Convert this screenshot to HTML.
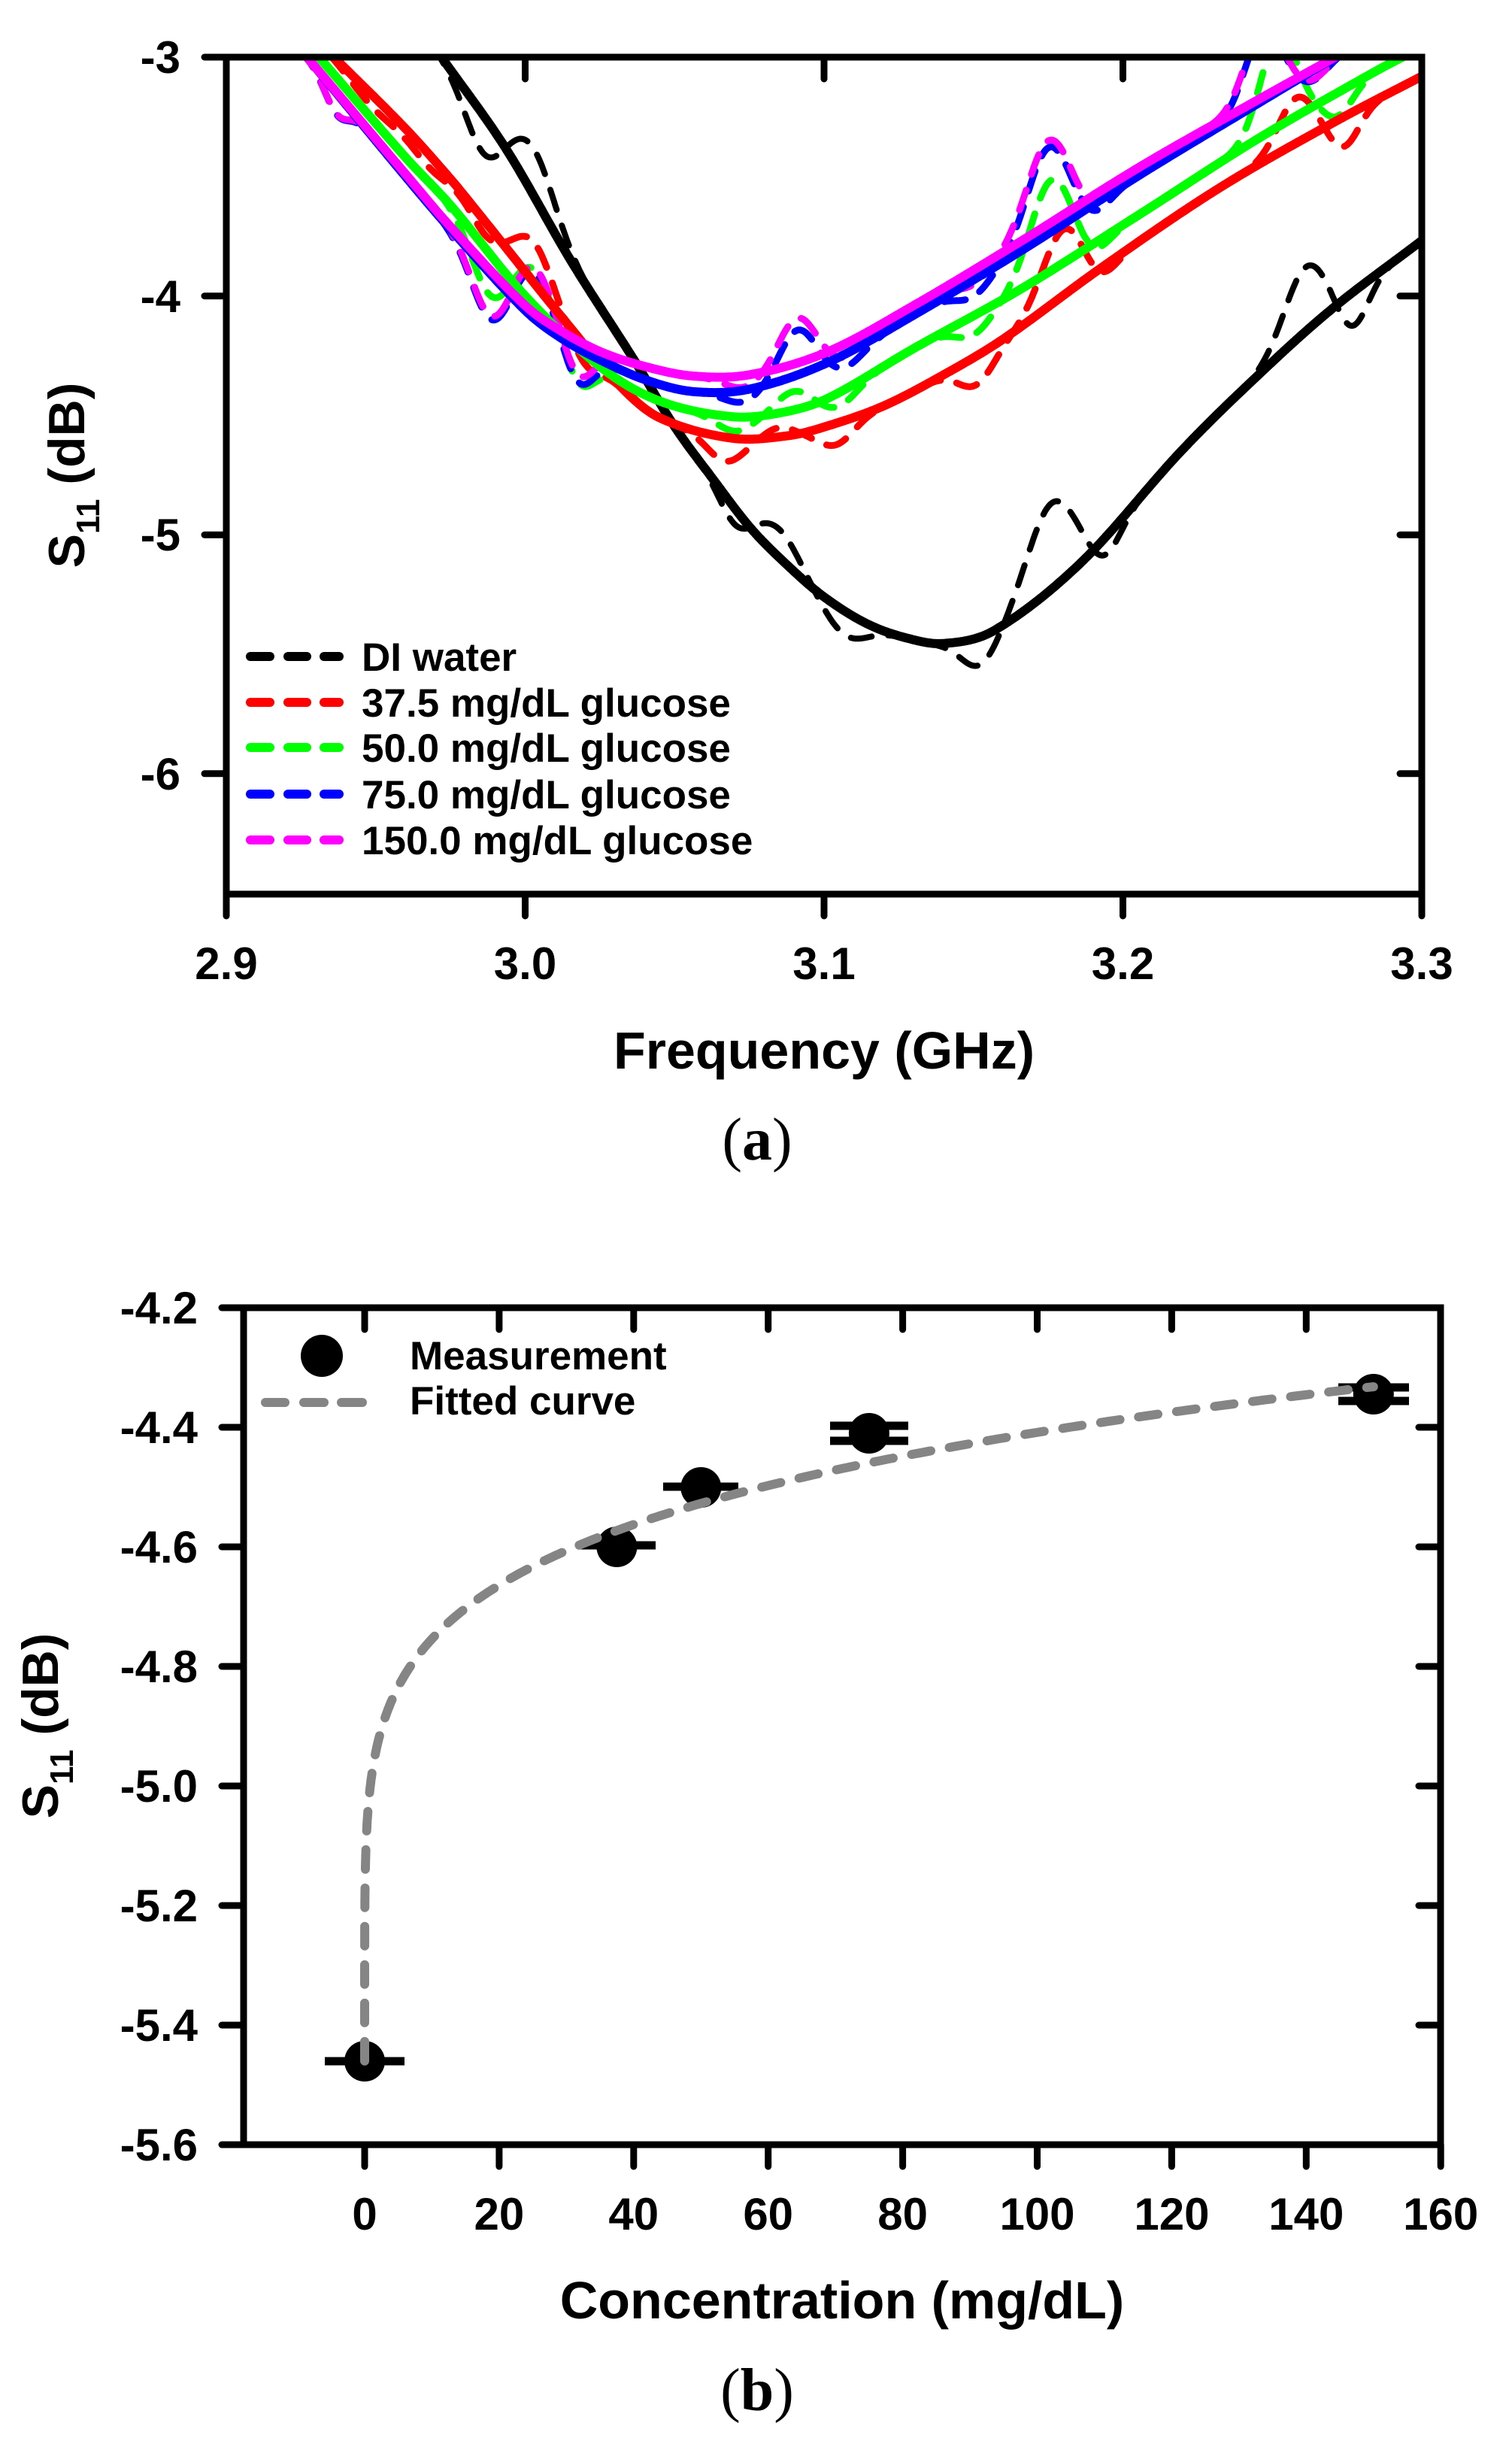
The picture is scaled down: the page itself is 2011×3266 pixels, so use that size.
<!DOCTYPE html>
<html>
<head>
<meta charset="utf-8">
<style>
html,body{margin:0;padding:0;background:#fff;}
svg{display:block;}
text{font-family:"Liberation Sans",Arial,sans-serif;font-weight:bold;fill:#000;}
.cap{font-family:"Liberation Serif","Times New Roman",serif;font-weight:normal;}
</style>
</head>
<body>
<svg id="s" xmlns="http://www.w3.org/2000/svg" width="2011" height="3266" viewBox="0 0 2011 3266">
<rect width="2011" height="3266" fill="#fff"/>
<defs>
<clipPath id="ca"><rect x="301" y="76" width="1590" height="1113"/></clipPath>
<clipPath id="cb"><rect x="324" y="1739" width="1592" height="1113"/></clipPath>
</defs>

<!-- ============ PANEL (a) ============ -->
<g id="curvesA" clip-path="url(#ca)"></g>

<g stroke="#000" stroke-width="9" fill="none" stroke-linecap="round">
<rect x="301" y="76" width="1590" height="1113" stroke-linecap="butt"/>
<!-- left ticks outward -->
<line x1="272" y1="76" x2="301" y2="76"/>
<line x1="272" y1="393.6" x2="301" y2="393.6"/>
<line x1="272" y1="711.2" x2="301" y2="711.2"/>
<line x1="272" y1="1028.8" x2="301" y2="1028.8"/>
<!-- right ticks inward -->
<line x1="1862" y1="393.6" x2="1891" y2="393.6"/>
<line x1="1862" y1="711.2" x2="1891" y2="711.2"/>
<line x1="1862" y1="1028.8" x2="1891" y2="1028.8"/>
<!-- bottom ticks outward -->
<line x1="301" y1="1189" x2="301" y2="1218"/>
<line x1="698.5" y1="1189" x2="698.5" y2="1218"/>
<line x1="1096" y1="1189" x2="1096" y2="1218"/>
<line x1="1493.5" y1="1189" x2="1493.5" y2="1218"/>
<line x1="1891" y1="1189" x2="1891" y2="1218"/>
<!-- top ticks inward -->
<line x1="698.5" y1="76" x2="698.5" y2="105"/>
<line x1="1096" y1="76" x2="1096" y2="105"/>
<line x1="1493.5" y1="76" x2="1493.5" y2="105"/>
</g>

<g font-size="60" text-anchor="end">
<text x="240" y="97">-3</text>
<text x="240" y="415">-4</text>
<text x="240" y="732">-5</text>
<text x="240" y="1050">-6</text>
</g>
<g font-size="60" text-anchor="middle">
<text x="301" y="1302">2.9</text>
<text x="698.5" y="1302">3.0</text>
<text x="1096" y="1302">3.1</text>
<text x="1493.5" y="1302">3.2</text>
<text x="1891" y="1302">3.3</text>
</g>
<text x="1096" y="1421" font-size="70" text-anchor="middle">Frequency (GHz)</text>
<text transform="translate(112,632) rotate(-90)" font-size="68" text-anchor="middle">S<tspan font-size="44" dy="20">11</tspan><tspan dy="-20"> (dB)</tspan></text>

<!-- legend (a) -->
<g stroke-width="12" stroke-linecap="round">
<g stroke="#000"><line x1="333" y1="873" x2="359" y2="873"/><line x1="383" y1="873" x2="408" y2="873"/><line x1="431" y1="873" x2="451" y2="873"/></g>
<g stroke="#ff0000"><line x1="333" y1="934" x2="359" y2="934"/><line x1="383" y1="934" x2="408" y2="934"/><line x1="431" y1="934" x2="451" y2="934"/></g>
<g stroke="#00ff00"><line x1="333" y1="994" x2="359" y2="994"/><line x1="383" y1="994" x2="408" y2="994"/><line x1="431" y1="994" x2="451" y2="994"/></g>
<g stroke="#0000ff"><line x1="333" y1="1056" x2="359" y2="1056"/><line x1="383" y1="1056" x2="408" y2="1056"/><line x1="431" y1="1056" x2="451" y2="1056"/></g>
<g stroke="#ff00ff"><line x1="333" y1="1117" x2="359" y2="1117"/><line x1="383" y1="1117" x2="408" y2="1117"/><line x1="431" y1="1117" x2="451" y2="1117"/></g>
</g>
<g font-size="53">
<text x="481" y="892">DI water</text>
<text x="481" y="953">37.5 mg/dL glucose</text>
<text x="481" y="1013">50.0 mg/dL glucose</text>
<text x="481" y="1075">75.0 mg/dL glucose</text>
<text x="481" y="1136">150.0 mg/dL glucose</text>
</g>

<text class="cap" x="1007" y="1542" font-size="80" text-anchor="middle">(<tspan font-weight="bold">a</tspan>)</text>

<!-- ============ PANEL (b) ============ -->
<g stroke="#000" stroke-width="9" fill="none" stroke-linecap="round">
<rect x="324" y="1739" width="1592" height="1113" stroke-linecap="butt"/>
<!-- left ticks outward -->
<line x1="295" y1="1739" x2="324" y2="1739"/>
<line x1="295" y1="1898" x2="324" y2="1898"/>
<line x1="295" y1="2057" x2="324" y2="2057"/>
<line x1="295" y1="2216" x2="324" y2="2216"/>
<line x1="295" y1="2375" x2="324" y2="2375"/>
<line x1="295" y1="2534" x2="324" y2="2534"/>
<line x1="295" y1="2693" x2="324" y2="2693"/>
<line x1="295" y1="2852" x2="324" y2="2852"/>
<!-- right ticks inward -->
<line x1="1887" y1="1898" x2="1916" y2="1898"/>
<line x1="1887" y1="2057" x2="1916" y2="2057"/>
<line x1="1887" y1="2216" x2="1916" y2="2216"/>
<line x1="1887" y1="2375" x2="1916" y2="2375"/>
<line x1="1887" y1="2534" x2="1916" y2="2534"/>
<line x1="1887" y1="2693" x2="1916" y2="2693"/>
<!-- top ticks inward -->
<line x1="485" y1="1739" x2="485" y2="1768"/>
<line x1="663.9" y1="1739" x2="663.9" y2="1768"/>
<line x1="842.8" y1="1739" x2="842.8" y2="1768"/>
<line x1="1021.7" y1="1739" x2="1021.7" y2="1768"/>
<line x1="1200.6" y1="1739" x2="1200.6" y2="1768"/>
<line x1="1379.5" y1="1739" x2="1379.5" y2="1768"/>
<line x1="1558.4" y1="1739" x2="1558.4" y2="1768"/>
<line x1="1737.3" y1="1739" x2="1737.3" y2="1768"/>
<!-- bottom ticks outward -->
<line x1="485" y1="2852" x2="485" y2="2881"/>
<line x1="663.9" y1="2852" x2="663.9" y2="2881"/>
<line x1="842.8" y1="2852" x2="842.8" y2="2881"/>
<line x1="1021.7" y1="2852" x2="1021.7" y2="2881"/>
<line x1="1200.6" y1="2852" x2="1200.6" y2="2881"/>
<line x1="1379.5" y1="2852" x2="1379.5" y2="2881"/>
<line x1="1558.4" y1="2852" x2="1558.4" y2="2881"/>
<line x1="1737.3" y1="2852" x2="1737.3" y2="2881"/>
<line x1="1916.2" y1="2852" x2="1916.2" y2="2881"/>
</g>

<g font-size="60" text-anchor="end">
<text x="263" y="1760">-4.2</text>
<text x="263" y="1919">-4.4</text>
<text x="263" y="2078">-4.6</text>
<text x="263" y="2237">-4.8</text>
<text x="263" y="2396">-5.0</text>
<text x="263" y="2555">-5.2</text>
<text x="263" y="2714">-5.4</text>
<text x="263" y="2873">-5.6</text>
</g>
<g font-size="60" text-anchor="middle">
<text x="485" y="2965">0</text>
<text x="663.9" y="2965">20</text>
<text x="842.8" y="2965">40</text>
<text x="1021.7" y="2965">60</text>
<text x="1200.6" y="2965">80</text>
<text x="1379.5" y="2965">100</text>
<text x="1558.4" y="2965">120</text>
<text x="1737.3" y="2965">140</text>
<text x="1916.2" y="2965">160</text>
</g>
<text x="1120" y="3083" font-size="70" text-anchor="middle">Concentration (mg/dL)</text>
<text transform="translate(77,2295) rotate(-90)" font-size="68" text-anchor="middle">S<tspan font-size="44" dy="20">11</tspan><tspan dy="-20"> (dB)</tspan></text>

<!-- data points (b) -->
<g fill="#000">
<circle cx="485" cy="2741" r="27"/>
<circle cx="820.4" cy="2057" r="27"/>
<circle cx="932.3" cy="1978" r="27"/>
<circle cx="1155.9" cy="1906" r="27"/>
<circle cx="1826.8" cy="1854" r="27"/>
</g>
<g stroke="#000" stroke-width="11">
<line x1="432" y1="2741" x2="538" y2="2741"/>
<line x1="768" y1="2055" x2="872" y2="2055"/>
<line x1="882" y1="1977" x2="982" y2="1977"/>
<line x1="1104" y1="1896" x2="1208" y2="1896"/>
<line x1="1104" y1="1916" x2="1208" y2="1916"/>
<line x1="1780" y1="1845" x2="1874" y2="1845"/>
<line x1="1780" y1="1863" x2="1874" y2="1863"/>
</g>
<g id="curvesB" clip-path="url(#cb)"></g>

<!-- legend (b) -->
<circle cx="428" cy="1803" r="28" fill="#000"/>
<g stroke="#858585" stroke-width="12" stroke-linecap="round">
<line x1="353" y1="1865" x2="379" y2="1865"/>
<line x1="404" y1="1865" x2="431" y2="1865"/>
<line x1="454" y1="1865" x2="482" y2="1865"/>
</g>
<g font-size="53">
<text x="545" y="1821">Measurement</text>
<text x="545" y="1881">Fitted curve</text>
</g>

<text class="cap" x="1007" y="3205" font-size="80" text-anchor="middle">(<tspan font-weight="bold">b</tspan>)</text>
</svg>

<script>
(function(){
  var NS="http://www.w3.org/2000/svg";
  function hermite(pts){
    var n=pts.length, m=[];
    for(var i=0;i<n;i++){
      if(i==0) m[i]=(pts[1][1]-pts[0][1])/(pts[1][0]-pts[0][0]);
      else if(i==n-1) m[i]=(pts[n-1][1]-pts[n-2][1])/(pts[n-1][0]-pts[n-2][0]);
      else m[i]=(pts[i+1][1]-pts[i-1][1])/(pts[i+1][0]-pts[i-1][0]);
    }
    return function(f){
      var i=0; while(i<n-2 && f>pts[i+1][0]) i++;
      var x0=pts[i][0], x1=pts[i+1][0], h=x1-x0, t=(f-x0)/h, t2=t*t, t3=t2*t;
      return (2*t3-3*t2+1)*pts[i][1]+(t3-2*t2+t)*h*m[i]+(-2*t3+3*t2)*pts[i+1][1]+(t3-t2)*h*m[i+1];
    };
  }
  function ext(pts){
    // extrapolate one point at each end
    var a=pts[0], b=pts[1], n=pts.length, c=pts[n-2], d=pts[n-1];
    var s0=(b[1]-a[1])/(b[0]-a[0]), s1=(d[1]-c[1])/(d[0]-c[0]);
    var r=[[a[0]-0.01, a[1]-s0*0.01]].concat(pts);
    r.push([d[0]+0.012, d[1]+s1*0.012]);
    return r;
  }
  function pathA(pts,bumps){
    var p=ext(pts), fn=hermite(p), f0=p[0][0], f1=p[p.length-1][0], d="";
    for(var f=f0; f<=f1+1e-9; f+=0.0004){
      var v=fn(f);
      if(bumps) for(var k=0;k<bumps.length;k++){var b=bumps[k]; var t=(f-b[0])/b[2]; v+=b[1]*Math.exp(-t*t/2);}
      var x=301+(f-2.9)*3975, y=76+(-3-v)*317.6;
      d+=(d?"L":"M")+x.toFixed(1)+" "+y.toFixed(1);
    }
    return d;
  }
  function add(g,d,color,w,dash){
    var e=document.createElementNS(NS,"path");
    e.setAttribute("d",d); e.setAttribute("fill","none");
    e.setAttribute("stroke",color); e.setAttribute("stroke-width",w);
    e.setAttribute("stroke-linejoin","round");
    e.setAttribute("stroke-linecap","round");
    if(dash) e.setAttribute("stroke-dasharray",dash);
    g.appendChild(e);
  }

  var black=[[2.972,-3.0],[2.9936,-3.384],[3.0152,-3.85],[3.0371,-4.281],[3.0499,-4.545],[3.0628,-4.766],[3.0756,-4.974],[3.0884,-5.135],[3.1,-5.26],[3.114,-5.37],[3.127,-5.43],[3.14,-5.455],[3.157,-5.40],[3.186,-5.116],[3.219,-4.656],[3.242,-4.37],[3.269,-4.064],[3.3,-3.768]];
  var red=[[2.936,-3.0],[2.96,-3.30],[2.975,-3.51],[2.9835,-3.64],[3.013,-4.10],[3.032,-4.38],[3.045,-4.51],[3.069,-4.595],[3.088,-4.585],[3.101,-4.545],[3.12,-4.46],[3.14,-4.33],[3.16,-4.18],[3.193,-3.88],[3.232,-3.55],[3.271,-3.27],[3.3,-3.08]];
  var green=[[2.931,-3.0],[2.96,-3.42],[2.975,-3.62],[3.0,-4.0],[3.0255,-4.30],[3.045,-4.44],[3.069,-4.505],[3.085,-4.49],[3.101,-4.43],[3.13,-4.22],[3.166,-3.97],[3.206,-3.655],[3.245,-3.343],[3.284,-3.063],[3.295,-2.99]];
  var blue=[[2.927,-3.0],[2.96,-3.50],[2.975,-3.72],[3.0,-4.06],[3.0125,-4.18],[3.0255,-4.27],[3.04,-4.35],[3.056,-4.40],[3.075,-4.39],[3.101,-4.28],[3.13,-4.08],[3.166,-3.81],[3.206,-3.49],[3.245,-3.195],[3.271,-3.0]];
  var mag=[[2.927,-3.0],[2.96,-3.49],[2.975,-3.71],[3.0,-4.04],[3.0125,-4.15],[3.0255,-4.235],[3.04,-4.295],[3.056,-4.335],[3.075,-4.33],[3.101,-4.235],[3.13,-4.04],[3.166,-3.77],[3.206,-3.457],[3.245,-3.18],[3.271,-3.0]];

  var bBlack=[[2.986,-0.17,0.006],[3.003,0.2,0.007],[3.07,-0.08,0.005],[3.085,0.12,0.007],[3.107,-0.1,0.007],[3.152,-0.12,0.006],[3.176,0.36,0.008],[3.194,-0.1,0.005],[3.261,0.27,0.007],[3.277,-0.16,0.005]];
  var bRed=[[2.95,-0.05,0.008],[2.968,-0.05,0.006],[2.987,-0.06,0.005],[3.003,0.17,0.006],[3.02,-0.08,0.005],[3.067,-0.1,0.006],[3.085,0.04,0.005],[3.104,-0.09,0.006],[3.151,-0.12,0.006],[3.18,0.28,0.007],[3.192,-0.07,0.005],[3.258,0.19,0.006],[3.274,-0.13,0.005]];
  var bGreen=[[2.988,-0.18,0.006],[3.003,0.16,0.006],[3.018,-0.15,0.005],[3.07,-0.06,0.006],[3.09,0.08,0.006],[3.105,-0.06,0.006],[3.15,-0.08,0.006],[3.176,0.38,0.007],[3.19,-0.06,0.005],[3.252,0.38,0.006],[3.272,-0.1,0.005]];
  var bBlue=[[2.937,-0.09,0.004],[2.988,-0.2,0.006],[3.003,0.2,0.006],[3.018,-0.15,0.005],[3.073,-0.05,0.006],[3.091,0.19,0.006],[3.107,-0.06,0.006],[3.15,-0.07,0.006],[3.175,0.36,0.007],[3.19,-0.06,0.005],[3.247,0.3,0.006],[3.263,-0.05,0.005]];
  var bMag=[[2.937,-0.09,0.004],[2.988,-0.2,0.006],[3.003,0.2,0.006],[3.018,-0.15,0.005],[3.073,-0.05,0.006],[3.091,0.19,0.006],[3.107,-0.06,0.006],[3.15,-0.06,0.006],[3.175,0.35,0.007],[3.19,-0.06,0.005],[3.247,0.3,0.006],[3.263,-0.05,0.005]];

  var gA=document.getElementById("curvesA");
  var DASH="28 22";
  // dashed measurements first
  add(gA,pathA(black,bBlack),"#000",8,DASH);
  add(gA,pathA(red,bRed),"#ff0000",9,DASH);
  add(gA,pathA(green,bGreen),"#00ff00",9,DASH);
  add(gA,pathA(blue,bBlue),"#0000ff",9,DASH);
  add(gA,pathA(mag,bMag),"#ff00ff",9,DASH);
  // solid fits
  add(gA,pathA(black,null),"#000",12,null);
  add(gA,pathA(red,null),"#ff0000",12,null);
  add(gA,pathA(green,null),"#00ff00",12,null);
  add(gA,pathA(blue,null),"#0000ff",12,null);
  add(gA,pathA(mag,null),"#ff00ff",12,null);

  // panel (b) fitted curve
  var gB=document.getElementById("curvesB"), d="";
  var N=600;
  for(var i=0;i<=N;i++){
    var t=i/N, c=150*Math.pow(t,4);
    var v=-5.46+0.474*Math.pow(c,0.173);
    var x=485+c*8.945, y=1739+(-4.2-v)*795;
    d+=(d?"L":"M")+x.toFixed(1)+" "+y.toFixed(1);
  }
  add(gB,d,"#858585",12,"26 25");
})();
</script>
</body>
</html>
